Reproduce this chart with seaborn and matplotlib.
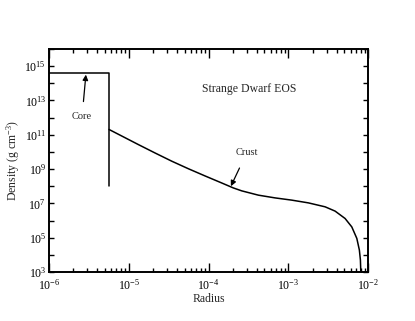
import numpy as np
import pandas as pd
import matplotlib
matplotlib.use("Agg")
import matplotlib.pyplot as plt
import seaborn as sns
from matplotlib.ticker import LogLocator, FixedLocator, NullFormatter, FuncFormatter

# ---- data ----
core_radius = [1e-6, 5.65e-6, 5.65e-6]
core_density = [4.0e14, 4.0e14, 1.0e8]

crust_log_radius = [-5.248, -4.881, -4.672, -4.462, -4.254, -4.045, -3.836,
                    -3.690, -3.585, -3.377, -3.168, -2.959, -2.751, -2.541,
                    -2.416, -2.291, -2.207, -2.144, -2.112, -2.099, -2.094]
crust_log_density = [11.31, 10.43, 9.94, 9.46, 9.02, 8.60, 8.19,
                     7.90, 7.73, 7.48, 7.32, 7.19, 7.03, 6.80,
                     6.55, 6.12, 5.63, 4.96, 4.28, 3.70, 3.0]

x_major = [1e-6, 1e-5, 1e-4, 1e-3, 1e-2]
y_labeled = [1e3, 1e5, 1e7, 1e9, 1e11, 1e13, 1e15]

title_text = "Strange Dwarf EOS"
x_label = "Radius"
y_label = r"Density (g cm$^{-3}$)"

# ---- style ----
sns.set_style("ticks")
plt.rcParams["font.family"] = ["Liberation Serif", "DejaVu Serif"]
plt.rcParams["mathtext.fontset"] = "custom"
plt.rcParams["mathtext.rm"] = "Liberation Serif"
plt.rcParams["mathtext.it"] = "Liberation Serif:italic"

fig = plt.figure(figsize=(4.15, 3.21), dpi=100)
ax = fig.add_axes([0.118, 0.1526, 0.7695, 0.6948])

core_df = pd.DataFrame({"r": core_radius, "rho": core_density})
crust_df = pd.DataFrame({"r": 10 ** np.array(crust_log_radius),
                         "rho": 10 ** np.array(crust_log_density)})

sns.lineplot(data=core_df, x="r", y="rho", sort=False, color="black",
             linewidth=1.1, ax=ax, estimator=None)
sns.lineplot(data=crust_df, x="r", y="rho", sort=False, color="black",
             linewidth=1.1, ax=ax, estimator=None)

ax.set_xscale("log")
ax.set_yscale("log")
ax.set_xlim(1e-6, 1e-2)
ax.set_ylim(1e3, 1e16)

ax.xaxis.set_major_locator(FixedLocator(x_major))
ax.xaxis.set_minor_locator(LogLocator(base=10, subs=np.arange(2, 10), numticks=20))
ax.xaxis.set_minor_formatter(NullFormatter())

def fmt(v, pos):
    e = int(round(np.log10(v)))
    return r"$10^{%d}$" % e

ax.xaxis.set_major_formatter(FuncFormatter(fmt))

ax.yaxis.set_major_locator(FixedLocator(y_labeled))
ax.yaxis.set_major_formatter(FuncFormatter(fmt))
ax.yaxis.set_minor_locator(FixedLocator([10.0 ** k for k in range(4, 17, 2)]))
ax.yaxis.set_minor_formatter(NullFormatter())

ax.tick_params(axis="both", which="both", direction="in", top=True, right=True,
               colors="black", labelsize=8.5)
ax.tick_params(axis="x", which="major", length=6.5, width=1.0, pad=4.5)
ax.tick_params(axis="x", which="minor", length=3.0, width=1.0)
ax.tick_params(axis="y", which="major", length=3.6, width=1.0, pad=2)
ax.tick_params(axis="y", which="minor", length=3.6, width=1.0)

for s in ax.spines.values():
    s.set_linewidth(1.4)
    s.set_color("black")

ax.set_xlabel(x_label, fontsize=8.5, labelpad=0)
ax.set_ylabel(y_label, fontsize=8.5, labelpad=2)

ax.text(3.2e-4, 4.4e13, title_text, fontsize=8.5, ha="center", va="center")

ax.annotate("Core", xy=(2.9e-6, 3.2e14), xytext=(2.6e-6, 1.2e12),
            fontsize=7.5, ha="center", va="center",
            arrowprops=dict(arrowstyle="-|>", color="black", lw=0.9,
                            shrinkA=5, shrinkB=0, mutation_scale=8))
ax.annotate("Crust", xy=(1.9e-4, 1.0e8), xytext=(3.0e-4, 9e9),
            fontsize=7.5, ha="center", va="center",
            arrowprops=dict(arrowstyle="-|>", color="black", lw=0.9,
                            shrinkA=6, shrinkB=0, mutation_scale=8))

fig.savefig("out.png", dpi=100)
